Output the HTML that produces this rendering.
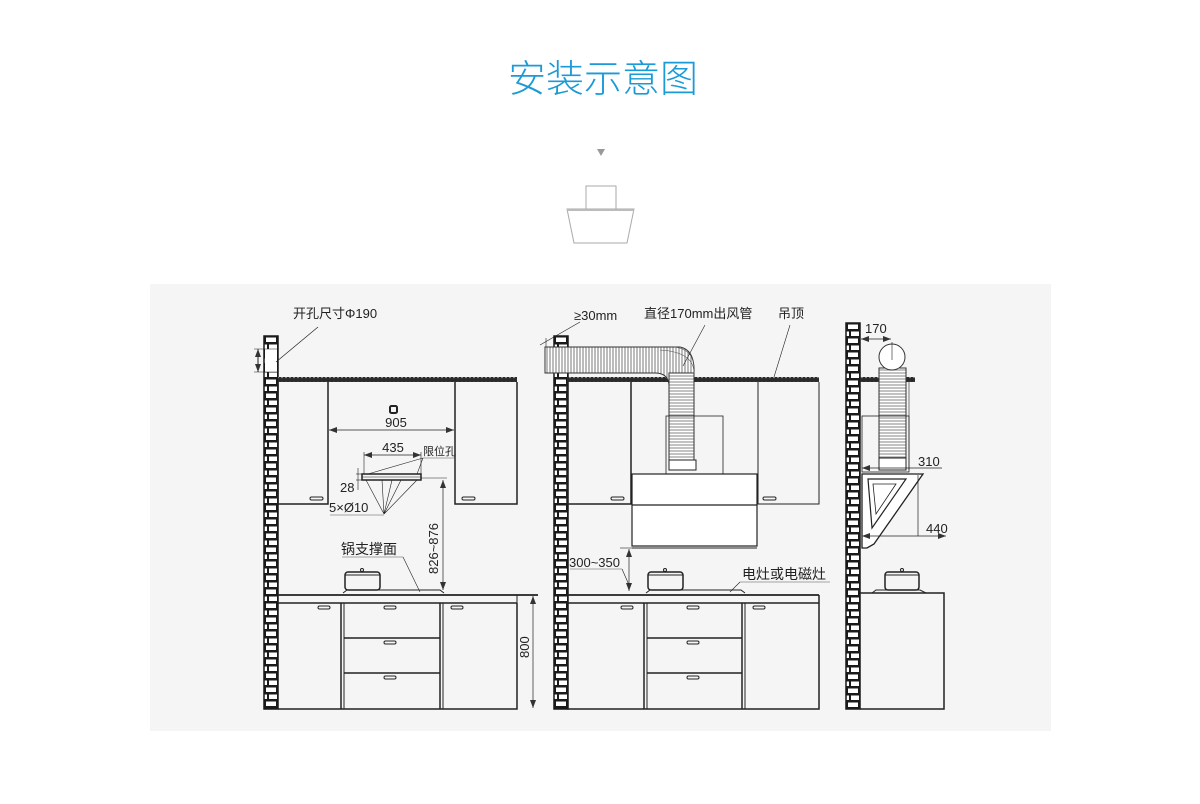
<!DOCTYPE html>
<html><head><meta charset="utf-8"><style>
html,body{margin:0;padding:0;background:#fff;}
svg{display:block;}
text{font-family:"Liberation Sans","Noto Sans CJK SC",sans-serif;fill:#222;}
</style></head><body>
<svg width="1200" height="804" viewBox="0 0 1200 804" xmlns="http://www.w3.org/2000/svg">
<defs>
<pattern id="brick" x="0" y="0" width="14" height="14" patternUnits="userSpaceOnUse">
<rect width="14" height="14" fill="#1a1a1a"/>
<rect x="2" y="1.5" width="10" height="4.5" fill="#fff"/>
<rect x="-5" y="8.5" width="8" height="4.5" fill="#fff"/>
<rect x="5" y="8.5" width="8" height="4.5" fill="#fff"/>
<rect x="15" y="8.5" width="8" height="4.5" fill="#fff"/>
</pattern>
<pattern id="ceil" width="4" height="5" patternUnits="userSpaceOnUse">
<rect width="4" height="5" fill="#2a2a2a"/><circle cx="2" cy="2.5" r="0.7" fill="#bbb"/>
</pattern>
<pattern id="corrH" width="3" height="10" patternUnits="userSpaceOnUse">
<rect width="3" height="10" fill="#fff"/><line x1="1" y1="0" x2="1" y2="10" stroke="#555" stroke-width="0.8"/>
</pattern>
<pattern id="corrV" width="10" height="3" patternUnits="userSpaceOnUse">
<rect width="10" height="3" fill="#fff"/><line x1="0" y1="1" x2="10" y2="1" stroke="#666" stroke-width="0.8"/>
</pattern>
<marker id="ar" markerWidth="8" markerHeight="6" refX="8" refY="3" orient="auto-start-reverse" markerUnits="userSpaceOnUse"><path d="M0,0 L8,3 L0,6 Z" fill="#333"/></marker>
</defs>

<text x="603" y="92" font-size="38" text-anchor="middle" style="fill:#1a9ad6;font-weight:300">安装示意图</text>
<path d="M597,149 L605,149 L601,156 Z" fill="#999"/>
<rect x="586" y="186" width="30" height="23" fill="#fff" stroke="#aaa"/>
<path d="M567,209 L634,209 L627,243 L574,243 Z" fill="#fff" stroke="#aaa"/>
<line x1="567" y1="210" x2="634" y2="210" stroke="#bbb" stroke-width="2"/>

<rect x="150" y="284" width="901" height="447" fill="#f5f5f5"/>

<!-- walls -->
<g transform="translate(264,336)"><rect width="14" height="373" fill="url(#brick)" stroke="#1a1a1a" stroke-width="1.5"/></g>
<rect x="265" y="349" width="12" height="23" fill="#fff"/>
<g transform="translate(554,336)"><rect width="14" height="373" fill="url(#brick)" stroke="#1a1a1a" stroke-width="1.5"/></g>
<g transform="translate(846,323)"><rect width="14" height="386" fill="url(#brick)" stroke="#1a1a1a" stroke-width="1.5"/></g>

<g stroke="#222" fill="none" stroke-width="1">
<!-- ===== Diagram 1 ===== -->
<line x1="258" y1="349" x2="258" y2="372" marker-start="url(#ar)" marker-end="url(#ar)"/>
<line x1="254" y1="349" x2="278" y2="349" stroke-width="0.6"/>
<line x1="254" y1="372" x2="278" y2="372" stroke-width="0.6"/>
<line x1="318" y1="327" x2="276" y2="362" stroke-width="0.7"/>
<rect x="278" y="377" width="239" height="5" fill="url(#ceil)" stroke="none"/>
<path d="M278,382 V504 H328 V382" stroke-width="1.5"/>
<path d="M455,382 V504 H517 V382" stroke-width="1.5"/>
<rect x="310" y="497" width="13" height="3" rx="1.5"/>
<rect x="462" y="497" width="13" height="3" rx="1.5"/>
<line x1="329" y1="430" x2="454" y2="430" marker-start="url(#ar)" marker-end="url(#ar)" stroke-width="0.7"/>
<rect x="390" y="406" width="7" height="7" rx="1.5" stroke-width="2"/>
<line x1="364" y1="455" x2="421" y2="455" marker-start="url(#ar)" marker-end="url(#ar)" stroke-width="0.7"/>
<line x1="364" y1="452" x2="364" y2="474" stroke-width="0.6"/>
<line x1="421" y1="452" x2="421" y2="474" stroke-width="0.6"/>
<line x1="423" y1="458" x2="454" y2="458" stroke="#888" stroke-width="0.8"/>
<line x1="423" y1="458" x2="368" y2="474" stroke-width="0.6"/>
<line x1="423" y1="458" x2="417" y2="474" stroke-width="0.6"/>
<rect x="362" y="474" width="59" height="6" stroke-width="1.5"/>
<line x1="362" y1="477" x2="421" y2="477" stroke-width="0.6"/>
<line x1="356" y1="474" x2="362" y2="474" stroke-width="0.6"/>
<line x1="356" y1="480" x2="362" y2="480" stroke-width="0.6"/>
<line x1="358" y1="468" x2="358" y2="490" stroke-width="0.6"/>
<line x1="330" y1="515" x2="384" y2="515" stroke="#888" stroke-width="0.8"/>
<path d="M384,514 L366,480 M384,514 L382,480 M384,514 L392,480 M384,514 L401,480 M384,514 L417,480" stroke-width="0.6"/>
<line x1="443" y1="480" x2="443" y2="590" marker-start="url(#ar)" marker-end="url(#ar)" stroke-width="0.7"/>
<line x1="421" y1="478" x2="447" y2="478" stroke-width="0.6"/>
<line x1="342" y1="557" x2="403" y2="557" stroke="#888" stroke-width="0.8"/>
<line x1="403" y1="557" x2="420" y2="592" stroke-width="0.6"/>
<rect x="345" y="572" width="35" height="18" rx="3" stroke-width="1.5"/>
<line x1="345" y1="575" x2="380" y2="575"/>
<circle cx="362" cy="570" r="1.5"/>
<path d="M343,593 L347,590 H440 L444,593"/>
<line x1="278" y1="595" x2="538" y2="595" stroke-width="1.8"/>
<line x1="278" y1="603" x2="517" y2="603" stroke-width="1.5"/>
<line x1="517" y1="595" x2="517" y2="603"/>
<path d="M278,709 H517 V603" stroke-width="1.5"/>
<line x1="341" y1="603" x2="341" y2="709" stroke-width="1.5"/>
<line x1="344" y1="603" x2="344" y2="709" stroke-width="1"/>
<line x1="440" y1="603" x2="440" y2="709" stroke-width="1.5"/>
<line x1="443" y1="603" x2="443" y2="709" stroke-width="1"/>
<line x1="344" y1="638" x2="440" y2="638" stroke-width="1.5"/>
<line x1="344" y1="673" x2="440" y2="673" stroke-width="1.5"/>
<rect x="318" y="606" width="12" height="3" rx="1.5"/>
<rect x="384" y="606" width="12" height="3" rx="1.5"/>
<rect x="451" y="606" width="12" height="3" rx="1.5"/>
<rect x="384" y="641" width="12" height="3" rx="1.5"/>
<rect x="384" y="676" width="12" height="3" rx="1.5"/>
<line x1="533" y1="596" x2="533" y2="708" marker-start="url(#ar)" marker-end="url(#ar)" stroke-width="0.7"/>

<!-- ===== Diagram 2 ===== -->
<rect x="567" y="377" width="252" height="5" fill="url(#ceil)" stroke="none"/>
<path d="M545,347 H680 Q695,350 694,373 V470 H669 V385 Q668,373 655,373 H545 Z" fill="url(#corrH)" stroke="#333"/>
<rect x="669" y="373" width="25" height="90" fill="url(#corrV)" stroke="#333"/>
<path d="M660,350 Q694,352 694,373 M675,347 Q694,350 694,368" stroke="#555" stroke-width="0.6"/>
<line x1="546" y1="338" x2="546" y2="347" stroke-width="0.6"/>
<line x1="540" y1="345" x2="580" y2="322" stroke-width="0.6"/>
<line x1="705" y1="325" x2="683" y2="366" stroke-width="0.6"/>
<line x1="790" y1="325" x2="774" y2="377" stroke-width="0.6"/>
<path d="M567,382 V504 H631 V382" stroke-width="1.5"/>
<path d="M758,382 V504 H819 V382" stroke-width="1"/>
<rect x="611" y="497" width="13" height="3" rx="1.5"/>
<rect x="763" y="497" width="13" height="3" rx="1.5"/>
<rect x="666" y="416" width="57" height="58" stroke-width="0.8"/>
<rect x="669" y="460" width="27" height="10" fill="#fff"/>
<rect x="632" y="474" width="125" height="72" fill="#fff" stroke-width="1.2"/>
<line x1="632" y1="505" x2="757" y2="505" stroke-width="1.2"/>
<line x1="632" y1="548" x2="757" y2="548"/>
<line x1="629" y1="549" x2="629" y2="591" marker-start="url(#ar)" marker-end="url(#ar)" stroke-width="0.7"/>
<line x1="620" y1="548" x2="632" y2="548" stroke-width="0.6"/>
<line x1="570" y1="569" x2="622" y2="569" stroke="#888" stroke-width="0.8"/>
<line x1="622" y1="569" x2="629" y2="585" stroke-width="0.6"/>
<line x1="740" y1="582" x2="830" y2="582" stroke="#888" stroke-width="0.8"/>
<line x1="740" y1="582" x2="730" y2="592" stroke-width="0.6"/>
<rect x="648" y="572" width="35" height="18" rx="3" stroke-width="1.5"/>
<line x1="648" y1="575" x2="683" y2="575"/>
<circle cx="665" cy="570" r="1.5"/>
<path d="M646,593 L650,590 H741 L745,593"/>
<line x1="567" y1="595" x2="819" y2="595" stroke-width="1.8"/>
<line x1="567" y1="603" x2="819" y2="603" stroke-width="1.5"/>
<path d="M567,709 H819 V595" stroke-width="1.5"/>
<line x1="644" y1="603" x2="644" y2="709" stroke-width="1.5"/>
<line x1="647" y1="603" x2="647" y2="709"/>
<line x1="742" y1="603" x2="742" y2="709" stroke-width="1.5"/>
<line x1="745" y1="603" x2="745" y2="709"/>
<line x1="647" y1="638" x2="742" y2="638" stroke-width="1.5"/>
<line x1="647" y1="673" x2="742" y2="673" stroke-width="1.5"/>
<rect x="621" y="606" width="12" height="3" rx="1.5"/>
<rect x="687" y="606" width="12" height="3" rx="1.5"/>
<rect x="753" y="606" width="12" height="3" rx="1.5"/>
<rect x="687" y="641" width="12" height="3" rx="1.5"/>
<rect x="687" y="676" width="12" height="3" rx="1.5"/>

<!-- ===== Diagram 3 ===== -->
<rect x="860" y="377" width="55" height="5" fill="url(#ceil)" stroke="none"/>
<rect x="879" y="368" width="27" height="100" fill="url(#corrV)" stroke="#333"/>
<circle cx="892" cy="357" r="13" fill="#fff" stroke="#333"/>
<line x1="892" y1="342" x2="892" y2="360" stroke-width="0.6"/>
<line x1="861" y1="339" x2="891" y2="339" marker-start="url(#ar)" marker-end="url(#ar)" stroke-width="0.7"/>
<line x1="909" y1="382" x2="909" y2="470" stroke-width="0.6"/>
<rect x="862" y="416" width="47" height="56" stroke-width="0.8"/>
<rect x="879" y="458" width="27" height="12" fill="#fff"/>
<line x1="862" y1="468" x2="942" y2="468" stroke-width="0.7" marker-start="url(#ar)"/>
<path d="M862,474 H923 L874,544 L867,548 H862 Z" fill="#fff" stroke-width="1.3"/>
<path d="M868,479 H906 L872,528 Z" stroke-width="1.2"/>
<path d="M873,484 H896 L876,514 Z" stroke-width="0.8"/>
<line x1="918" y1="475" x2="918" y2="536" stroke-width="0.7"/>
<line x1="862" y1="536" x2="946" y2="536" stroke-width="0.7" marker-start="url(#ar)" marker-end="url(#ar)"/>
<rect x="885" y="572" width="34" height="18" rx="3" stroke-width="1.5"/>
<line x1="885" y1="575" x2="919" y2="575"/>
<circle cx="902" cy="570" r="1.5"/>
<path d="M872,593 L876,590 H920 L926,593"/>
<path d="M860,593 H944 V709 H860" stroke-width="1.5"/>
</g>

<g font-size="13">
<text x="293" y="318">开孔尺寸Φ190</text>
<text x="396" y="427" text-anchor="middle">905</text>
<text x="393" y="452" text-anchor="middle">435</text>
<text x="423" y="455" font-size="11">限位孔</text>
<text x="340" y="492">28</text>
<text x="329" y="512">5×Ø10</text>
<text x="341" y="554" font-size="14">锅支撑面</text>
<text transform="translate(438,574) rotate(-90)">826~876</text>
<text transform="translate(529,658) rotate(-90)">800</text>
<text x="574" y="320">≥30mm</text>
<text x="644" y="318">直径170mm出风管</text>
<text x="778" y="318">吊顶</text>
<text x="569" y="567">300~350</text>
<text x="742" y="579" font-size="14">电灶或电磁灶</text>
<text x="865" y="333">170</text>
<text x="918" y="466">310</text>
<text x="926" y="533">440</text>
</g>
</svg>
</body></html>
